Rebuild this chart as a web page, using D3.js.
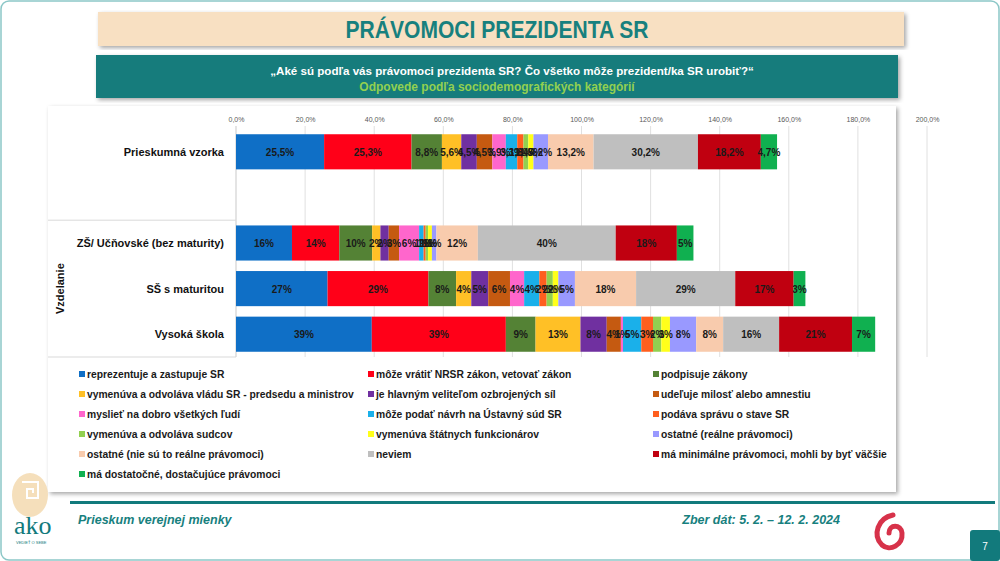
<!DOCTYPE html>
<html><head><meta charset="utf-8">
<script src="https://cdn.jsdelivr.net/npm/d3@7"></script>
<style>
html,body{margin:0;padding:0;background:#fff;}
svg{display:block;font-family:"Liberation Sans",Arial,sans-serif;}
</style></head>
<body>
<svg id="c" width="1000" height="561"></svg>
<script>
const categories = ["Prieskumná vzorka", " ", "ZŠ/ Učňovské (bez maturity)", "SŠ s maturitou", "Vysoká škola"];
const series = ["reprezentuje a zastupuje SR","môže vrátiť NRSR zákon, vetovať zákon","podpisuje zákony",
 "vymenúva a odvoláva vládu SR - predsedu a ministrov","je hlavným veliteľom ozbrojených síl","udeľuje milosť alebo amnestiu",
 "myslieť na dobro všetkých ľudí","môže podať návrh na Ústavný súd SR","podáva správu o stave SR",
 "vymenúva a odvoláva sudcov","vymenúva štátnych funkcionárov","ostatné (reálne právomoci)",
 "ostatné (nie sú to reálne právomoci)","neviem","má minimálne právomoci, mohli by byť väčšie",
 "má dostatočné, dostačujúce právomoci"];
const colors = ["#0f6fc6","#ff0018","#548235","#ffc026","#7030a0","#c55a11","#ff66cc","#1ab0ea","#ff5f1f",
 "#92d050","#ffff1a","#9999ff","#f8cbad","#bfbfbf","#c00010","#10b050"];
const valsTotal = [25.5,25.3,8.8,5.6,4.5,4.5,3.9,3.3,1.8,1.4,1.5,4.2,13.2,30.2,18.2,4.7];
const valsZS    = [16.2,13.7,9.5,2.4,2.4,3.0,5.8,1.3,0.6,0.7,1.1,1.3,12.0,39.9,17.7,4.8];
const valsSS    = [26.5,29.2,8.0,4.4,4.9,6.3,4.1,4.4,2.1,1.8,1.6,4.8,17.7,28.7,16.9,3.4];
const valsVS    = [39.3,38.8,8.6,13.0,7.6,4.1,0.6,5.3,3.4,2.4,2.5,7.6,7.8,16.2,21.1,6.7];
const tickVals  = [0,20,40,60,80,100,120,140,160,180,200];
const rows = [
  {cat: categories[0], vals: valsTotal, dec: 1},
  {cat: categories[2], vals: valsZS, dec: 0},
  {cat: categories[3], vals: valsSS, dec: 0},
  {cat: categories[4], vals: valsVS, dec: 0}
];

const svg = d3.select("#c");
const teal = "#127a7c";
const defs = svg.append("defs");
const f = defs.append("filter").attr("id","sh").attr("x","-5%").attr("y","-5%").attr("width","110%").attr("height","115%");
f.append("feDropShadow").attr("dx",2).attr("dy",2).attr("stdDeviation",2).attr("flood-color","#000").attr("flood-opacity",0.35);

// slide frame
svg.append("rect").attr("x",1).attr("y",1).attr("width",998).attr("height",559).attr("rx",8)
  .attr("fill","#fff").attr("stroke","#8cc7c7").attr("stroke-width",1.5);

// title boxes
svg.append("rect").attr("x",98).attr("y",12).attr("width",806).attr("height",34).attr("fill","#f8e0c2").attr("filter","url(#sh)");
svg.append("text").attr("x",497).attr("y",38).attr("text-anchor","middle").attr("font-size",23).attr("font-weight","bold")
  .attr("fill","#17807e").attr("textLength",303).attr("lengthAdjust","spacingAndGlyphs").text("PRÁVOMOCI PREZIDENTA SR");
svg.append("rect").attr("x",96).attr("y",55).attr("width",802).attr("height",43).attr("fill","#127c7c").attr("filter","url(#sh)");
svg.append("text").attr("x",512).attr("y",75).attr("text-anchor","middle").attr("font-size",11.6).attr("font-weight","bold")
  .attr("fill","#fff").text("„Aké sú podľa vás právomoci prezidenta SR? Čo všetko môže prezident/ka SR urobiť?“");
svg.append("text").attr("x",497).attr("y",91).attr("text-anchor","middle").attr("font-size",12).attr("font-weight","bold")
  .attr("fill","#92d050").text("Odpovede podľa sociodemografických kategórií");

// chart box
svg.append("rect").attr("x",48).attr("y",106).attr("width",848).attr("height",386).attr("fill","#fff").attr("filter","url(#sh)");

const x = d3.scaleLinear().domain([0,200]).range([236,927]);
const y = d3.scaleBand().domain(categories).range([129,357]).paddingInner(0.23).paddingOuter(0.115);

// gridlines
svg.append("g").selectAll("line").data(tickVals).join("line")
  .attr("x1",d=>x(d)).attr("x2",d=>x(d)).attr("y1",126).attr("y2",357)
  .attr("stroke","#e0e0e0").attr("stroke-width",1);

// axis
const ax = svg.append("g").attr("transform","translate(0,122)")
  .call(d3.axisTop(x).tickValues(tickVals).tickSize(0).tickPadding(0)
    .tickFormat(d=>d.toFixed(1).replace(".",",")+"%"));
ax.select(".domain").remove();
ax.selectAll("text").attr("font-size",7).attr("fill","#595959").attr("font-family","'Liberation Sans',Arial");

// left table lines
const sepY = y.step()*2 + 129;
svg.append("line").attr("x1",48).attr("x2",236).attr("y1",sepY).attr("y2",sepY).attr("stroke","#d9d9d9");
svg.append("line").attr("x1",48).attr("x2",236).attr("y1",357).attr("y2",357).attr("stroke","#d9d9d9");
svg.append("line").attr("x1",236).attr("x2",236).attr("y1",126).attr("y2",357).attr("stroke","#d9d9d9");

// category labels
svg.append("g").selectAll("text").data(rows).join("text")
  .attr("x",224).attr("y",d=>y(d.cat)+y.bandwidth()/2+4).attr("text-anchor","end")
  .attr("font-size",11).attr("font-weight","bold").attr("fill","#111").text(d=>d.cat);
svg.append("text").attr("transform",`translate(64,${(sepY+357)/2}) rotate(-90)`).attr("text-anchor","middle")
  .attr("font-size",11).attr("font-weight","bold").attr("fill","#111").text("Vzdelanie");

// bars
rows.forEach(r=>{
  let acc = 0;
  const segs = r.vals.map((v,i)=>{const s={i,v,x0:acc,x1:acc+v}; acc+=v; return s;});
  const g = svg.append("g");
  g.selectAll("rect").data(segs).join("rect")
    .attr("x",d=>x(d.x0)).attr("width",d=>x(d.x1)-x(d.x0))
    .attr("y",y(r.cat)).attr("height",y.bandwidth()).attr("fill",d=>colors[d.i]);
  g.selectAll("text").data(segs).join("text")
    .attr("x",d=>(x(d.x0)+x(d.x1))/2).attr("y",y(r.cat)+y.bandwidth()/2+4)
    .attr("text-anchor","middle").attr("font-size",10).attr("font-weight","bold").attr("fill","#1a1a1a")
    .text(d=> r.dec ? d.v.toFixed(1).replace(".",",")+"%" : Math.round(d.v)+"%");
});

// legend
const lx = [79,368,653];
const lg = svg.append("g").selectAll("g").data(series).join("g")
  .attr("transform",(d,i)=>`translate(${lx[i%3]},${378+20*Math.floor(i/3)})`);
lg.append("rect").attr("x",0).attr("y",-7).attr("width",6).attr("height",6).attr("fill",(d,i)=>colors[i]);
lg.append("text").attr("x",8).attr("y",0).attr("font-size",10.3).attr("font-weight","bold").attr("fill","#1a1a1a").text(d=>d);

// footer
svg.append("rect").attr("x",70).attr("y",501).attr("width",925).attr("height",3).attr("fill",teal);
svg.append("text").attr("x",78).attr("y",524).attr("font-size",12.5).attr("font-weight","bold").attr("font-style","italic")
  .attr("fill","#17807e").text("Prieskum verejnej mienky");
svg.append("text").attr("x",840).attr("y",524).attr("text-anchor","end").attr("font-size",12.5).attr("font-weight","bold").attr("font-style","italic")
  .attr("fill","#17807e").text("Zber dát: 5. 2. – 12. 2. 2024");
svg.append("rect").attr("x",970).attr("y",530).attr("width",30).attr("height",31).attr("rx",3).attr("fill",teal);
svg.append("text").attr("x",985).attr("y",550).attr("text-anchor","middle").attr("font-size",10).attr("fill","#fff").text("7");

// ako logo (approximate)
svg.append("ellipse").attr("cx",30).attr("cy",495).attr("rx",18).attr("ry",22).attr("fill","#f3d7aa").attr("opacity",0.8);
svg.append("path").attr("d","M22,482 h16 v16 h-11 v-9 h6 v4").attr("fill","none").attr("stroke","#fff").attr("stroke-width",2);
svg.append("text").attr("x",14).attr("y",534).attr("font-size",26).attr("fill",teal).attr("font-family","'Liberation Serif',serif").text("ako");
svg.append("text").attr("x",16).attr("y",544).attr("font-size",4).attr("fill",teal).text("VEDIEŤ O SEBE");

// red spiral (approximate)
svg.append("path").attr("d","M893,515 C878,518 872,535 882,545 C890,552 903,545 902,533 C901,524 889,524 889,533")
  .attr("fill","none").attr("stroke","#d7324a").attr("stroke-width",5).attr("stroke-linecap","round");
</script>
</body></html>
